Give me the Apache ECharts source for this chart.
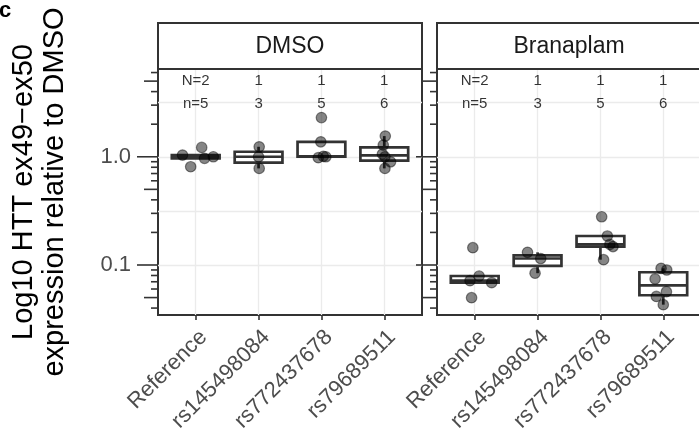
<!DOCTYPE html>
<html>
<head>
<meta charset="utf-8">
<script src="https://cdn.jsdelivr.net/npm/echarts@6/dist/echarts.min.js"></script>
<style>
  html, body { margin: 0; padding: 0; background: #fff; }
  #chart { width: 699px; height: 442px; }
</style>
</head>
<body>
<div id="chart"></div>
<script>
// ---- data ----
const categories = ['Reference', 'rs145498084', 'rs772437678', 'rs79689511'];
const panels = ['DMSO', 'Branaplam'];
const donorLabels = ['N=2', '1', '1', '1'];

// relative expression per replicate, one list per category
const dmsoValues = [
  [1.037, 0.809, 1.221, 0.967, 1.0],
  [1.237, 1.0, 0.781],
  [2.3, 1.375, 0.98, 1.0, 1.01],
  [1.553, 1.282, 1.06, 1.0, 0.899, 0.781]
];
const branaplamValues = [
  [0.1445, 0.0791, 0.0716, 0.0687, 0.0499],
  [0.131, 0.1148, 0.084],
  [0.279, 0.1853, 0.155, 0.148, 0.112],
  [0.0932, 0.0899, 0.0743, 0.0567, 0.0512, 0.043]
];
// horizontal jitter of each replicate, in category units
const dmsoJitter = [
  [-0.21, -0.08, 0.095, 0.14, 0.28],
  [0.01, 0.0, 0.01],
  [0.0, -0.01, -0.05, 0.07, 0.03],
  [0.016, -0.016, -0.03, 0.01, 0.1, 0.01]
];
const branaplamJitter = [
  [-0.03, 0.07, -0.075, 0.27, -0.05],
  [-0.16, 0.05, -0.04],
  [0.02, 0.11, 0.15, 0.2, 0.05],
  [-0.035, 0.055, -0.13, 0.05, -0.11, 0.0]
];

const yTickValues = [0.1, 1];
const yTickLabels = ['0.1', '1.0'];

// ---- helpers ----
const log10 = Math.log10;
const FONT = '"Liberation Sans", Arial, Helvetica, sans-serif';
const Y_MIN = -1.462, Y_MAX = 0.811;         // log10 limits of the panels
const X_MIN = -0.6, X_MAX = categories.length - 1 + 0.6;
const N_ROW = 5, SMALL_N_ROW = 3.1;           // heights of the count annotations
const BOX_WIDTH = 0.76;

function quantile(sorted, p) {
  const h = (sorted.length - 1) * p;
  const lo = Math.floor(h), hi = Math.ceil(h);
  return sorted[lo] + (h - lo) * (sorted[hi] - sorted[lo]);
}
function boxStats(vals) {
  const s = vals.map(log10).sort((a, b) => a - b);
  const q1 = quantile(s, 0.25), med = quantile(s, 0.5), q3 = quantile(s, 0.75);
  const iqr = q3 - q1;
  const lowW = Math.min(...s.filter(v => v >= q1 - 1.5 * iqr));
  const highW = Math.max(...s.filter(v => v <= q3 + 1.5 * iqr));
  return [lowW, q1, med, q3, highW];
}

const panelValues = [dmsoValues, branaplamValues];
const panelJitter = [dmsoJitter, branaplamJitter];
const gridBoxes = [
  { left: 158, top: 69, width: 264, height: 246 },
  { left: 437, top: 69, width: 264, height: 246 }
];

// log tick marks: decades long, fives medium, the rest short
const logTicks = [];
[-2, -1, 0].forEach(e => {
  for (let m = 1; m <= 9; m++) {
    const v = m * Math.pow(10, e);
    const lv = log10(v);
    if (lv >= Y_MIN && lv <= Y_MAX) logTicks.push([lv, m === 1 ? 2 : (m === 5 ? 1 : 0)]);
  }
});
const tickLen = [7, 14, 21];

const grids = [], xAxes = [], yAxes = [], series = [], graphics = [];

gridBoxes.forEach((g, pi) => {
  grids.push(Object.assign({
    show: true, borderColor: '#333', borderWidth: 2, backgroundColor: '#fff',
    containLabel: false, outerBoundsMode: 'none'
  }, g));

  xAxes.push({
    type: 'value', gridIndex: pi, min: X_MIN, max: X_MAX, position: 'bottom',
    axisLine: { show: false, onZero: false },
    axisTick: { show: true, length: 5, customValues: categories.map((c, i) => i),
                lineStyle: { color: '#333', width: 1.6 } },
    axisLabel: {
      customValues: categories.map((c, i) => i),
      formatter: v => categories[Math.round(v)],
      // top-right corner of each rotated label hangs from its tick
      rotate: 45, align: 'right', verticalAlign: 'top', margin: 11,
      fontSize: 22, interval: 0, hideOverlap: false, showMinLabel: true, showMaxLabel: true,
      color: '#4d4d4d', fontFamily: FONT
    },
    splitLine: { show: true, lineStyle: { color: '#ebebeb', width: 1.3 } }
  });

  const yAxis = {
    type: 'value', gridIndex: pi, min: Y_MIN, max: Y_MAX, position: 'left',
    axisLine: { show: false, onZero: false },
    axisTick: { show: false, customValues: [-1.5, -1, -0.5, 0, 0.5] },
    axisLabel: {
      show: pi === 0,
      customValues: yTickValues.map(log10),
      formatter: v => yTickLabels[yTickValues.findIndex(t => Math.abs(log10(t) - v) < 1e-6)],
      margin: 27, fontSize: 22, color: '#4d4d4d', fontFamily: FONT,
      showMinLabel: true, showMaxLabel: true
    },
    splitLine: { show: true, lineStyle: { color: '#ebebeb', width: 1.3 } }
  };
  if (pi === 0) {
    Object.assign(yAxis, {
      name: 'Log10 HTT ex49\u2212ex50\nexpression relative to DMSO',
      nameLocation: 'middle', nameGap: 88, nameRotate: 90,
      nameTextStyle: { fontSize: 29, color: '#000', fontFamily: FONT, lineHeight: 31 }
    });
  }
  yAxes.push(yAxis);

  // boxes
  const boxData = panelValues[pi].map((vals, ci) => [ci].concat(boxStats(vals)));
  series.push({
    type: 'custom', xAxisIndex: pi, yAxisIndex: pi, z: 3, silent: true,
    data: boxData,
    renderItem: (params, api) => {
      const x = api.value(0);
      const pLow = api.coord([x, api.value(1)]);
      const pQ1 = api.coord([x, api.value(2)]);
      const pMed = api.coord([x, api.value(3)]);
      const pQ3 = api.coord([x, api.value(4)]);
      const pHigh = api.coord([x, api.value(5)]);
      const half = api.size([BOX_WIDTH, 0])[0] / 2;
      const stroke = { stroke: '#333', lineWidth: 2.7 };
      const kids = [];
      if (pHigh[1] < pQ3[1] - 0.1) kids.push({ type: 'line', shape: { x1: pQ3[0], y1: pQ3[1], x2: pHigh[0], y2: pHigh[1] }, style: stroke });
      if (pLow[1] > pQ1[1] + 0.1) kids.push({ type: 'line', shape: { x1: pQ1[0], y1: pQ1[1], x2: pLow[0], y2: pLow[1] }, style: stroke });
      kids.push({ type: 'rect', shape: { x: pQ3[0] - half, y: pQ3[1], width: 2 * half, height: pQ1[1] - pQ3[1] },
                  style: { fill: '#fff', stroke: '#333', lineWidth: 2.7 } });
      kids.push({ type: 'line', shape: { x1: pMed[0] - half, y1: pMed[1], x2: pMed[0] + half, y2: pMed[1] }, style: stroke });
      return { type: 'group', children: kids };
    }
  });

  // replicate points
  const pts = [];
  panelValues[pi].forEach((vals, ci) => vals.forEach((v, k) => pts.push([ci + panelJitter[pi][ci][k], log10(v)])));
  series.push({
    type: 'scatter', xAxisIndex: pi, yAxisIndex: pi, z: 4, silent: true,
    symbolSize: 10.5, data: pts,
    itemStyle: { color: 'rgba(0,0,0,0.48)', borderColor: 'rgba(0,0,0,0.45)', borderWidth: 1.2, opacity: 1 }
  });

  // donor and replicate counts
  const countData = [];
  categories.forEach((c, ci) => {
    countData.push({ value: [ci, log10(N_ROW)], name: donorLabels[ci] });
    const n = panelValues[pi][ci].length;
    countData.push({ value: [ci, log10(SMALL_N_ROW)], name: ci === 0 ? 'n=' + n : String(n) });
  });
  series.push({
    type: 'scatter', xAxisIndex: pi, yAxisIndex: pi, z: 5, silent: true,
    symbolSize: 1, data: countData, itemStyle: { color: 'rgba(0,0,0,0)' },
    label: { show: true, position: 'inside', formatter: '{b}', fontSize: 15, color: '#000', fontFamily: FONT }
  });

  // log ticks on the left edge of each panel
  series.push({
    type: 'custom', xAxisIndex: pi, yAxisIndex: pi, z: 6, silent: true, clip: false,
    data: logTicks,
    renderItem: (params, api) => {
      const p = api.coord([X_MIN, api.value(0)]);
      const len = tickLen[api.value(1)];
      return { type: 'line', shape: { x1: p[0] - len, y1: p[1], x2: p[0], y2: p[1] },
               style: { stroke: '#333', lineWidth: 1.6 } };
    }
  });

  // facet strip
  graphics.push({ type: 'rect', z: 10, shape: { x: g.left, y: 23, width: g.width, height: 46 },
                  style: { fill: '#fff', stroke: '#333', lineWidth: 2 } });
  graphics.push({ type: 'text', z: 11, x: g.left + g.width / 2, y: 47,
                  style: { text: panels[pi], fontSize: 23, fontFamily: FONT, fill: '#1a1a1a',
                           align: 'center', verticalAlign: 'middle' } });
});

graphics.push({ type: 'text', z: 11, x: -1, y: 11,
                style: { text: 'c', fontSize: 22, fontWeight: 'bold', fontFamily: FONT, fill: '#000',
                         align: 'left', verticalAlign: 'middle' } });

const chart = echarts.init(document.getElementById('chart'), null, { renderer: 'canvas' });
chart.setOption({
  animation: false,
  backgroundColor: '#fff',
  grid: grids, xAxis: xAxes, yAxis: yAxes, series: series, graphic: graphics
});
</script>
</body>
</html>
